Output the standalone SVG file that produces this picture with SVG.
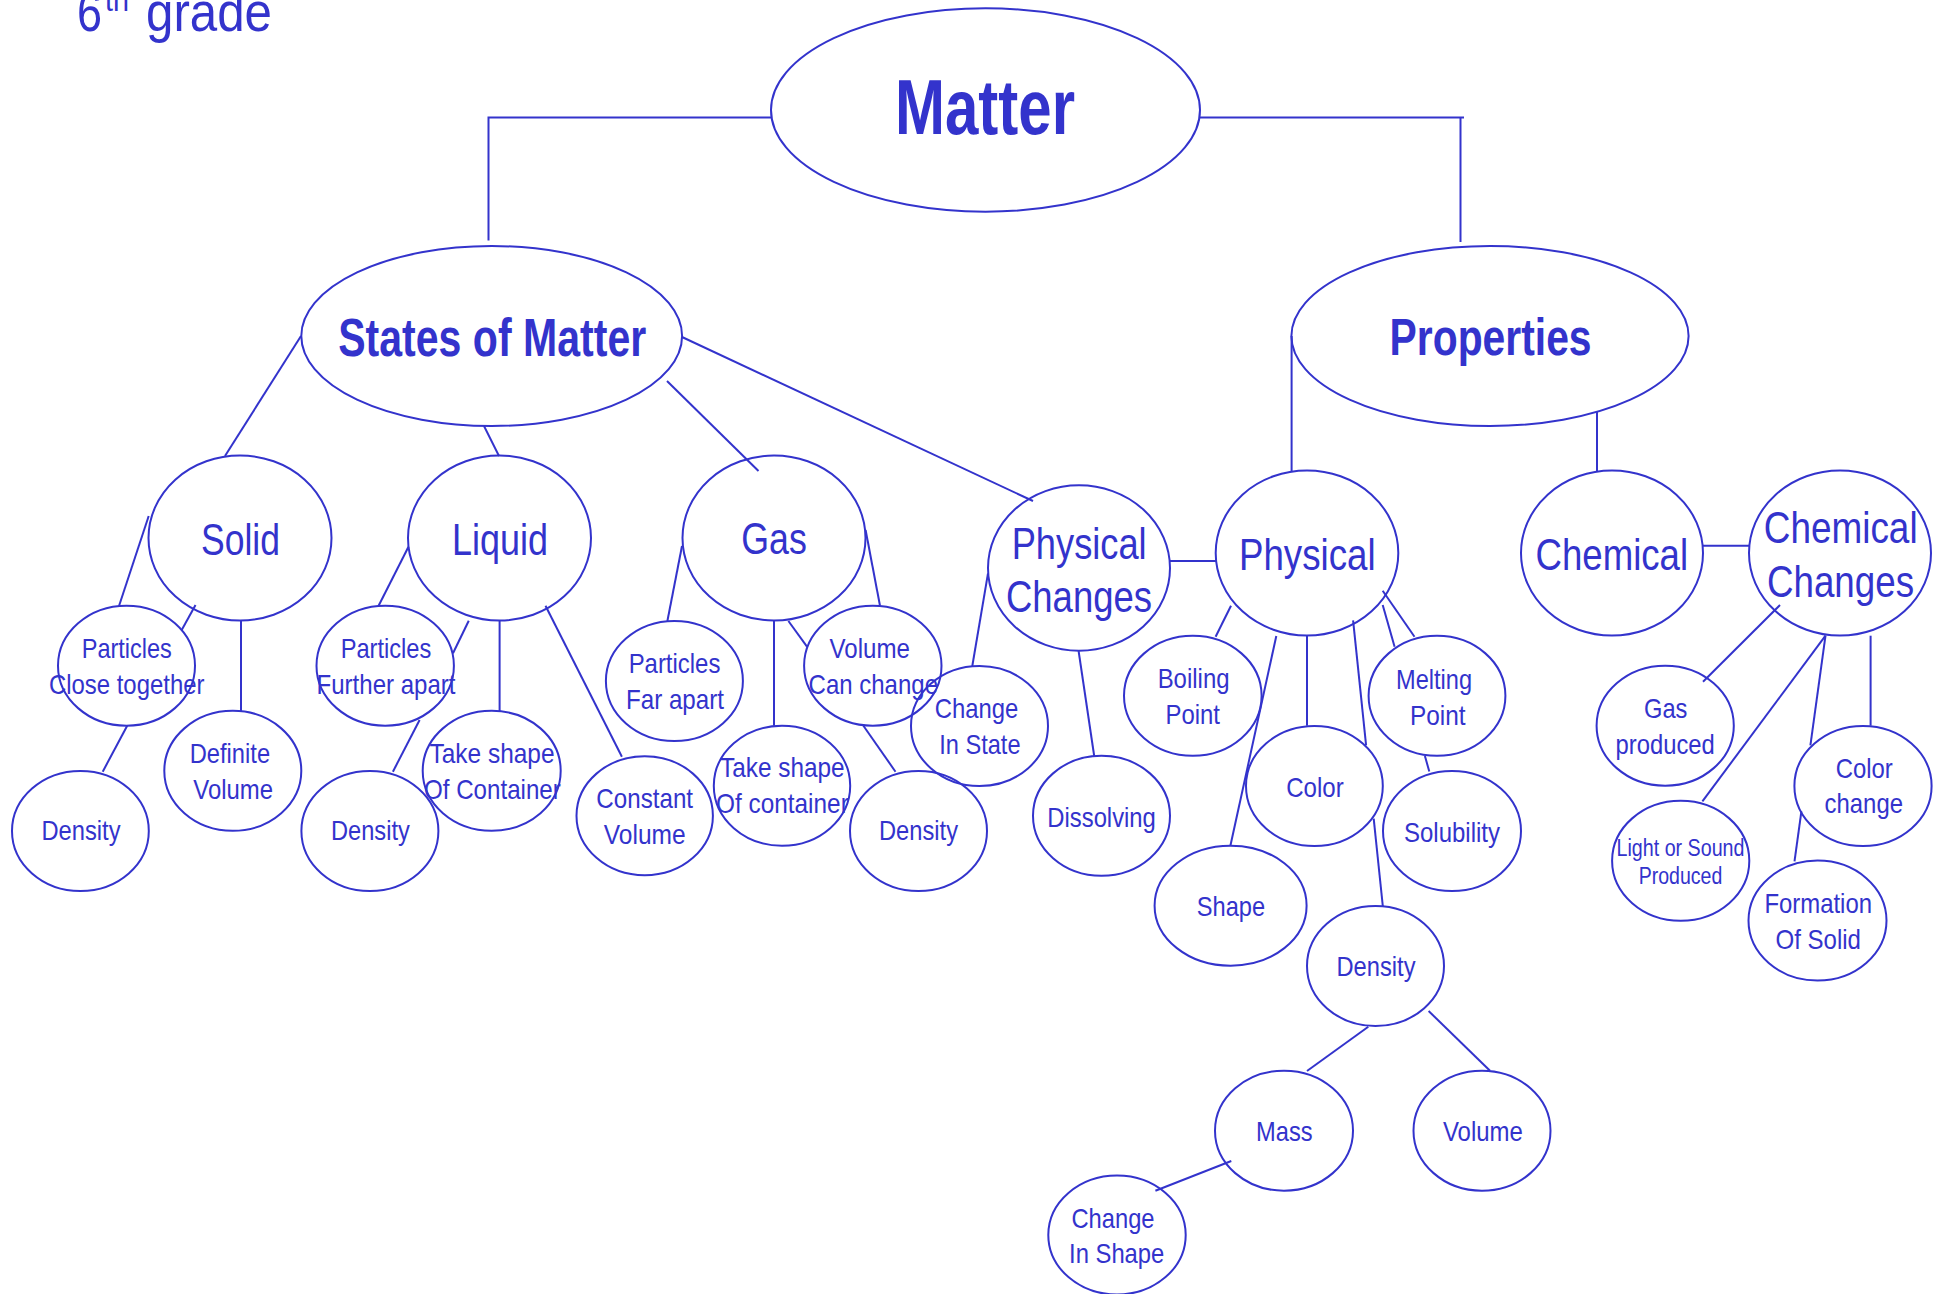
<svg xmlns="http://www.w3.org/2000/svg" width="1944" height="1294" viewBox="0 0 1944 1294">
<style>
text{font-family:"Liberation Sans",Arial,sans-serif;fill:#3333cc;text-anchor:middle}
.nd ellipse{fill:none;stroke:#3333cc;stroke-width:2}
#connectors line,#connectors polyline{stroke:#3333cc;stroke-width:2;fill:none}
.L{font-size:45px}
.S{font-size:28px}
.X{font-size:23px}
.B{font-weight:bold}
</style>
<rect width="1944" height="1294" fill="#ffffff"/>
<text id="title" style="font-size:56px;text-anchor:start" y="31"><tspan x="77" textLength="25" lengthAdjust="spacingAndGlyphs">6</tspan><tspan x="105" y="11" style="font-size:33px" textLength="24" lengthAdjust="spacingAndGlyphs">th</tspan><tspan x="146" y="31" textLength="126" lengthAdjust="spacingAndGlyphs">grade</tspan></text>
<g id="connectors">
<polyline points="771,117.5 488.5,117.5 488.5,240.5"/>
<polyline points="1200,117.5 1464,117.5"/>
<line x1="1460.5" y1="117.5" x2="1460.5" y2="242"/>
<line x1="301" y1="336" x2="225" y2="456"/>
<line x1="484" y1="426" x2="499" y2="456"/>
<line x1="667" y1="381" x2="758.5" y2="471"/>
<line x1="682" y1="337" x2="1033" y2="501"/>
<line x1="1291.6" y1="336" x2="1291.6" y2="471"/>
<line x1="1597" y1="411" x2="1597" y2="471"/>
<line x1="148.7" y1="516" x2="119" y2="606"/>
<line x1="195.5" y1="605" x2="181.7" y2="630"/>
<line x1="241" y1="621" x2="241" y2="711"/>
<line x1="127.2" y1="725.7" x2="102.7" y2="771.7"/>
<line x1="408.5" y1="546.7" x2="378.6" y2="605.7"/>
<line x1="468.75" y1="620.7" x2="453" y2="653.3"/>
<line x1="419.6" y1="720" x2="392.9" y2="771.7"/>
<line x1="499.6" y1="621" x2="499.6" y2="711"/>
<line x1="545.5" y1="605.7" x2="621.9" y2="756.7"/>
<line x1="682" y1="546" x2="667.4" y2="621"/>
<line x1="774" y1="621" x2="774" y2="725.7"/>
<line x1="788.4" y1="621" x2="807" y2="646.7"/>
<line x1="865.6" y1="530" x2="880" y2="605.7"/>
<line x1="863.4" y1="725.7" x2="895.5" y2="771.7"/>
<line x1="988" y1="573.3" x2="972.3" y2="666"/>
<line x1="1078.6" y1="651" x2="1094.2" y2="756"/>
<line x1="1170" y1="561" x2="1216" y2="561"/>
<line x1="1231" y1="605.7" x2="1215.6" y2="636.7"/>
<line x1="1276.3" y1="636" x2="1230.4" y2="845.7"/>
<line x1="1307" y1="635.7" x2="1307" y2="725.7"/>
<line x1="1353.1" y1="620.4" x2="1366.1" y2="745.4"/>
<line x1="1373.7" y1="818.6" x2="1382.8" y2="906"/>
<line x1="1382.7" y1="590.7" x2="1414.5" y2="636.7"/>
<line x1="1382.7" y1="605" x2="1394.6" y2="646.7"/>
<line x1="1424.9" y1="756" x2="1429.3" y2="771.4"/>
<line x1="1703" y1="545.7" x2="1749" y2="545.7"/>
<line x1="1780" y1="605" x2="1703" y2="681.7"/>
<line x1="1825.5" y1="635.7" x2="1702.4" y2="801.4"/>
<line x1="1825.5" y1="635.7" x2="1810.4" y2="745.4"/>
<line x1="1801.4" y1="811.4" x2="1794.5" y2="861.4"/>
<line x1="1870.6" y1="635.7" x2="1870.6" y2="725.7"/>
<line x1="1368.3" y1="1026.7" x2="1307" y2="1071"/>
<line x1="1428.6" y1="1011" x2="1490" y2="1070.7"/>
<line x1="1231.3" y1="1161" x2="1155.4" y2="1190.7"/>
</g>
<g id="matter" class="nd"><ellipse cx="985.5" cy="110" rx="214.5" ry="101.7"/><text class="B" style="font-size:77px" x="985" y="134" textLength="180" lengthAdjust="spacingAndGlyphs">Matter</text></g>
<g id="states" class="nd"><ellipse cx="491.7" cy="336" rx="190.4" ry="90"/><text class="B" style="font-size:53px" x="492.2" y="356" textLength="308" lengthAdjust="spacingAndGlyphs">States of Matter</text></g>
<g id="properties" class="nd"><ellipse cx="1490" cy="336" rx="198.6" ry="90"/><text class="B" style="font-size:52px" x="1490.6" y="355.3" textLength="202" lengthAdjust="spacingAndGlyphs">Properties</text></g>
<g id="solid" class="nd"><ellipse cx="240" cy="538" rx="91.5" ry="82.5"/><text class="L" x="240.5" y="555" textLength="79" lengthAdjust="spacingAndGlyphs">Solid</text></g>
<g id="liquid" class="nd"><ellipse cx="499.5" cy="538" rx="91.5" ry="82.5"/><text class="L" x="500" y="555" textLength="96" lengthAdjust="spacingAndGlyphs">Liquid</text></g>
<g id="gas" class="nd"><ellipse cx="774" cy="538" rx="91.5" ry="82.5"/><text class="L" x="774" y="554.3" textLength="65.5" lengthAdjust="spacingAndGlyphs">Gas</text></g>
<g id="physical-changes" class="nd"><ellipse cx="1079" cy="568" rx="91" ry="82.7"/><text class="L" x="1079.2" y="559" textLength="135" lengthAdjust="spacingAndGlyphs">Physical</text><text class="L" x="1079" y="612.3" textLength="146" lengthAdjust="spacingAndGlyphs">Changes</text></g>
<g id="physical" class="nd"><ellipse cx="1307" cy="553" rx="91.3" ry="82.5"/><text class="L" x="1307.3" y="570" textLength="136.6" lengthAdjust="spacingAndGlyphs">Physical</text></g>
<g id="chemical" class="nd"><ellipse cx="1612" cy="553" rx="91" ry="82.5"/><text class="L" x="1611.8" y="570" textLength="152.5" lengthAdjust="spacingAndGlyphs">Chemical</text></g>
<g id="chemical-changes" class="nd"><ellipse cx="1840" cy="553" rx="91" ry="82.5"/><text class="L" x="1840.7" y="543.3" textLength="153.8" lengthAdjust="spacingAndGlyphs">Chemical</text><text class="L" x="1840.5" y="596.7" textLength="147" lengthAdjust="spacingAndGlyphs">Changes</text></g>
<g id="particles-close" class="nd"><ellipse cx="126.5" cy="665.7" rx="68.5" ry="60"/><text class="S" x="126.8" y="658.3" textLength="90.2" lengthAdjust="spacingAndGlyphs">Particles</text><text class="S" x="126.7" y="694" textLength="155.5" lengthAdjust="spacingAndGlyphs">Close together</text></g>
<g id="density-solid" class="nd"><ellipse cx="80.4" cy="831" rx="68.4" ry="60"/><text class="S" x="81" y="840" textLength="79" lengthAdjust="spacingAndGlyphs">Density</text></g>
<g id="definite-volume" class="nd"><ellipse cx="232.8" cy="770.8" rx="68.5" ry="60"/><text class="S" x="229.9" y="763.3" textLength="80.3" lengthAdjust="spacingAndGlyphs">Definite</text><text class="S" x="233.2" y="799.3" textLength="79.7" lengthAdjust="spacingAndGlyphs">Volume</text></g>
<g id="particles-further" class="nd"><ellipse cx="385.2" cy="665.7" rx="68.7" ry="60"/><text class="S" x="386" y="658.3" textLength="90.7" lengthAdjust="spacingAndGlyphs">Particles</text><text class="S" x="386" y="694" textLength="138.9" lengthAdjust="spacingAndGlyphs">Further apart</text></g>
<g id="density-liquid" class="nd"><ellipse cx="369.9" cy="831" rx="68.5" ry="60"/><text class="S" x="370.4" y="840" textLength="78.8" lengthAdjust="spacingAndGlyphs">Density</text></g>
<g id="take-shape-liquid" class="nd"><ellipse cx="491.7" cy="770.8" rx="69" ry="60"/><text class="S" x="492" y="763.3" textLength="125" lengthAdjust="spacingAndGlyphs">Take shape</text><text class="S" x="492.4" y="799.3" textLength="136.7" lengthAdjust="spacingAndGlyphs">Of Container</text></g>
<g id="constant-volume" class="nd"><ellipse cx="644.7" cy="815.7" rx="68.2" ry="59.5"/><text class="S" x="644.7" y="808.3" textLength="96.7" lengthAdjust="spacingAndGlyphs">Constant</text><text class="S" x="644.7" y="844" textLength="81.8" lengthAdjust="spacingAndGlyphs">Volume</text></g>
<g id="particles-far" class="nd"><ellipse cx="674.4" cy="681" rx="68.5" ry="60"/><text class="S" x="674.5" y="673.3" textLength="91.7" lengthAdjust="spacingAndGlyphs">Particles</text><text class="S" x="675" y="709.3" textLength="98" lengthAdjust="spacingAndGlyphs">Far apart</text></g>
<g id="volume-can-change" class="nd"><ellipse cx="872.8" cy="665.7" rx="68.7" ry="60"/><text class="S" x="869.7" y="658.3" textLength="80.3" lengthAdjust="spacingAndGlyphs">Volume</text><text class="S" x="873.3" y="694" textLength="129.5" lengthAdjust="spacingAndGlyphs">Can change</text></g>
<g id="take-shape-gas" class="nd"><ellipse cx="782" cy="785.7" rx="68.2" ry="60"/><text class="S" x="782.3" y="777.3" textLength="124.6" lengthAdjust="spacingAndGlyphs">Take shape</text><text class="S" x="782.4" y="812.7" textLength="132.7" lengthAdjust="spacingAndGlyphs">Of container</text></g>
<g id="density-gas" class="nd"><ellipse cx="918.5" cy="831" rx="68.5" ry="60"/><text class="S" x="918.5" y="840" textLength="79" lengthAdjust="spacingAndGlyphs">Density</text></g>
<g id="change-in-state" class="nd"><ellipse cx="979.5" cy="726" rx="68.5" ry="60"/><text class="S" x="976.6" y="718.3" textLength="83.5" lengthAdjust="spacingAndGlyphs">Change</text><text class="S" x="979.9" y="754.3" textLength="81.2" lengthAdjust="spacingAndGlyphs">In State</text></g>
<g id="dissolving" class="nd"><ellipse cx="1101.5" cy="815.8" rx="68.5" ry="60"/><text class="S" x="1101.6" y="826.7" textLength="108.5" lengthAdjust="spacingAndGlyphs">Dissolving</text></g>
<g id="boiling-point" class="nd"><ellipse cx="1192.8" cy="695.8" rx="68.8" ry="60"/><text class="S" x="1193.6" y="688.3" textLength="71.9" lengthAdjust="spacingAndGlyphs">Boiling</text><text class="S" x="1192.8" y="724.3" textLength="54.4" lengthAdjust="spacingAndGlyphs">Point</text></g>
<g id="color" class="nd"><ellipse cx="1314.4" cy="786" rx="68.4" ry="60"/><text class="S" x="1315" y="797" textLength="57.5" lengthAdjust="spacingAndGlyphs">Color</text></g>
<g id="melting-point" class="nd"><ellipse cx="1437" cy="695.8" rx="68.4" ry="60"/><text class="S" x="1434" y="689" textLength="76" lengthAdjust="spacingAndGlyphs">Melting</text><text class="S" x="1437.8" y="724.6" textLength="55.6" lengthAdjust="spacingAndGlyphs">Point</text></g>
<g id="solubility" class="nd"><ellipse cx="1452" cy="831" rx="69" ry="60"/><text class="S" x="1452" y="841.8" textLength="96" lengthAdjust="spacingAndGlyphs">Solubility</text></g>
<g id="shape" class="nd"><ellipse cx="1230.6" cy="905.7" rx="76" ry="60"/><text class="S" x="1231" y="915.7" textLength="68.3" lengthAdjust="spacingAndGlyphs">Shape</text></g>
<g id="density-physical" class="nd"><ellipse cx="1375.5" cy="966" rx="68.5" ry="60"/><text class="S" x="1376" y="976" textLength="79" lengthAdjust="spacingAndGlyphs">Density</text></g>
<g id="mass" class="nd"><ellipse cx="1284" cy="1130.7" rx="69" ry="60"/><text class="S" x="1284.3" y="1141" textLength="56.5" lengthAdjust="spacingAndGlyphs">Mass</text></g>
<g id="volume" class="nd"><ellipse cx="1482" cy="1130.7" rx="68.5" ry="60"/><text class="S" x="1482.9" y="1141" textLength="79.9" lengthAdjust="spacingAndGlyphs">Volume</text></g>
<g id="change-in-shape" class="nd"><ellipse cx="1117" cy="1235" rx="68.7" ry="59.5"/><text class="S" x="1113" y="1228.3" textLength="83.1" lengthAdjust="spacingAndGlyphs">Change</text><text class="S" x="1116.7" y="1262.7" textLength="95.3" lengthAdjust="spacingAndGlyphs">In Shape</text></g>
<g id="gas-produced" class="nd"><ellipse cx="1665.2" cy="725.7" rx="68.6" ry="60"/><text class="S" x="1665.7" y="717.9" textLength="43.4" lengthAdjust="spacingAndGlyphs">Gas</text><text class="S" x="1665.2" y="753.6" textLength="99.2" lengthAdjust="spacingAndGlyphs">produced</text></g>
<g id="light-or-sound" class="nd"><ellipse cx="1680.7" cy="860.8" rx="68.6" ry="60"/><text class="X" x="1680.5" y="856" textLength="128" lengthAdjust="spacingAndGlyphs">Light or Sound</text><text class="X" x="1680.5" y="883.6" textLength="83.6" lengthAdjust="spacingAndGlyphs">Produced</text></g>
<g id="color-change" class="nd"><ellipse cx="1863" cy="786" rx="68.6" ry="60"/><text class="S" x="1864.2" y="777.5" textLength="57.1" lengthAdjust="spacingAndGlyphs">Color</text><text class="S" x="1863.8" y="813.2" textLength="78.4" lengthAdjust="spacingAndGlyphs">change</text></g>
<g id="formation-of-solid" class="nd"><ellipse cx="1817.5" cy="920.6" rx="69" ry="60"/><text class="S" x="1818.2" y="913.2" textLength="107.6" lengthAdjust="spacingAndGlyphs">Formation</text><text class="S" x="1818.2" y="949" textLength="85.5" lengthAdjust="spacingAndGlyphs">Of Solid</text></g>
</svg>
